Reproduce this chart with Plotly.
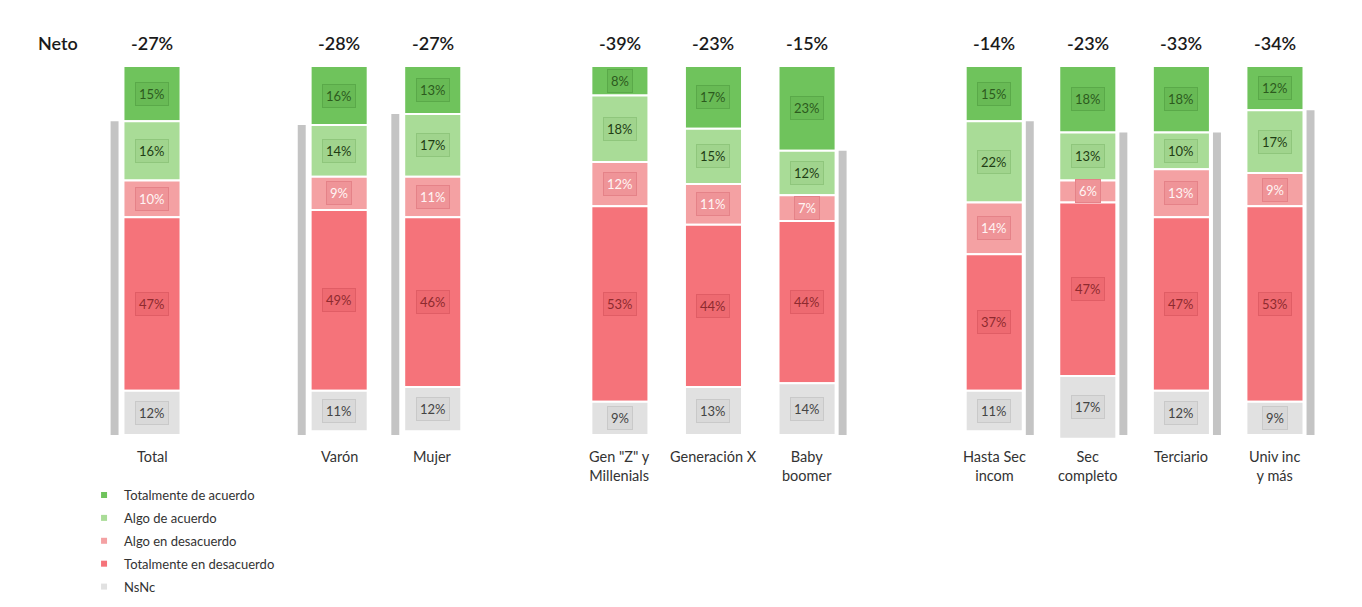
import numpy as np
import plotly.graph_objects as go

categories = ["Total", "Varón", "Mujer", "Gen \"Z\" y<br>Millenials", "Generación X", "Baby<br>boomer",
              "Hasta Sec<br>incom", "Sec<br>completo", "Terciario", "Univ inc<br>y más"]
slots = [0, 2, 3, 5, 6, 7, 9, 10, 11, 12]
neto = ["-27%", "-28%", "-27%", "-39%", "-23%", "-15%", "-14%", "-23%", "-33%", "-34%"]

series_names = ["Totalmente de acuerdo", "Algo de acuerdo", "Algo en desacuerdo",
                "Totalmente en desacuerdo", "NsNc"]
tot_acuerdo = [15, 16, 13, 8, 17, 23, 15, 18, 18, 12]
algo_acuerdo = [16, 14, 17, 18, 15, 12, 22, 13, 10, 17]
algo_desac = [10, 9, 11, 12, 11, 7, 14, 6, 13, 9]
tot_desac = [47, 49, 46, 53, 44, 44, 37, 47, 47, 53]
nsnc = [12, 11, 12, 9, 13, 14, 11, 17, 12, 9]
shadow_side = ["L", "L", "L", "N", "N", "R", "R", "R", "R", "R"]

series = [tot_acuerdo, algo_acuerdo, algo_desac, tot_desac, nsnc]
colors = ["#6fc35c", "#a9dc97", "#f4a1a3", "#f5737a", "#e1e1e1"]
box_bg = ["#68ba55", "#a0d48d", "#ef9498", "#ee6a71", "#d9d9d9"]
box_line = ["#5aa949", "#8fc67c", "#e58288", "#e05d65", "#c9c9c9"]
txt_col = ["#2d5a1e", "#1f3d14", "#fff4f4", "#8e2a2f", "#444444"]

FONT = "Lato"
fig = go.Figure()

# 3D side shadow bars
sx, sbase, sh = [], [], []
for i, s in enumerate(shadow_side):
    if s == "N":
        continue
    sx.append(slots[i] + (-0.40 if s == "L" else 0.38))
    sbase.append(tot_acuerdo[i])
    sh.append(100 - tot_acuerdo[i])
fig.add_trace(go.Bar(x=sx, y=sh, base=sbase, width=0.085, marker=dict(color="#c4c4c4", line=dict(width=0)),
                     showlegend=False, hoverinfo="skip"))

arr = np.array(series, dtype=float)
cum = np.cumsum(arr, axis=0)
bases = cum - arr
annotations = []
for k, name in enumerate(series_names):
    fig.add_trace(go.Bar(x=slots, y=arr[k], base=bases[k], width=0.61, name=name,
                         marker=dict(color=colors[k], line=dict(color="white", width=2)),
                         showlegend=False))
    fig.add_trace(go.Scatter(x=[None], y=[None], mode="markers", name=name,
                             marker=dict(symbol="square", size=6, color=colors[k]),
                             legendgroup=name))
    for i in range(len(slots)):
        annotations.append(dict(x=slots[i], y=bases[k][i] + arr[k][i] / 2, text=f"{int(arr[k][i])}%",
                                showarrow=False, font=dict(family=FONT, size=13, color=txt_col[k]),
                                bgcolor=box_bg[k], bordercolor=box_line[k], borderwidth=1, borderpad=3))

for i in range(len(slots)):
    annotations.append(dict(x=slots[i], y=-6.2, text=neto[i], showarrow=False,
                            font=dict(family=FONT, size=18, color="#1a1a1a", weight=600)))
    annotations.append(dict(x=slots[i], y=103.1, text=categories[i], showarrow=False, yanchor="top",
                            font=dict(family=FONT, size=14.5, color="#333333")))
annotations.append(dict(x=-1.0, y=-6.2, text="Neto", showarrow=False,
                        font=dict(family=FONT, size=18, color="#1a1a1a", weight=600)))

fig.update_layout(
    width=1346, height=591,
    margin=dict(l=0, r=0, t=0, b=0, autoexpand=False),
    paper_bgcolor="white", plot_bgcolor="white",
    barmode="overlay",
    xaxis=dict(range=[-1.5388, 12.8446], visible=False, fixedrange=True),
    yaxis=dict(range=[144.445, -15.718], visible=False, fixedrange=True),
    annotations=annotations,
    showlegend=True,
    legend=dict(x=0.0565, y=0.2013, xanchor="left", yanchor="top", bgcolor="rgba(0,0,0,0)",
                font=dict(family=FONT, size=13, color="#333333"), tracegroupgap=3,
                itemwidth=30),
)
fig.write_html("out.html")
